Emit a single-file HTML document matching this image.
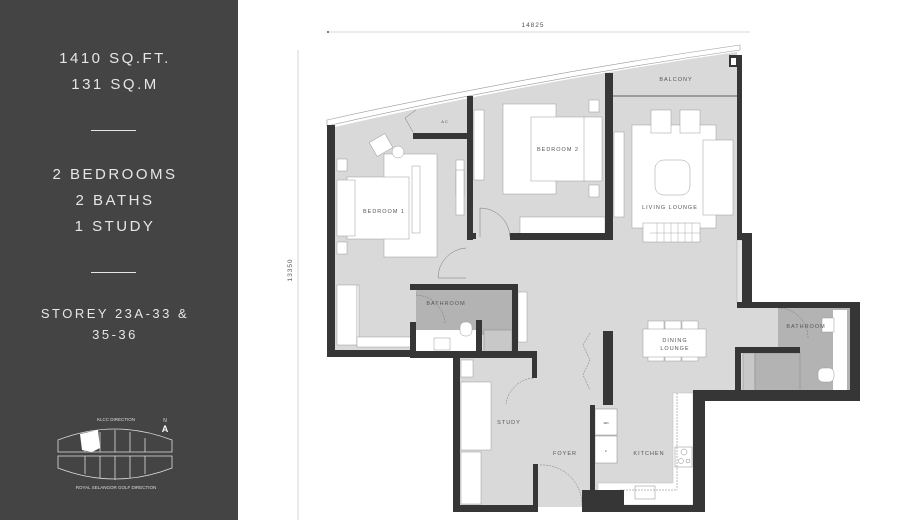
<!DOCTYPE html>
<html><head><meta charset="utf-8"><style>
html,body{margin:0;padding:0;background:#fff;}
body{width:897px;height:520px;position:relative;overflow:hidden;font-family:"Liberation Sans",sans-serif;}
#panel{position:absolute;left:0;top:0;width:238px;height:520px;background:#444;color:#e6e6e6;text-align:center;}
.t{position:absolute;left:0;width:230px;text-align:center;font-size:15px;letter-spacing:2.5px;}
.hr{position:absolute;left:91px;width:45px;height:1px;background:#e6e6e6;}
</style></head><body>
<div id="panel">
<div class="t" style="top:50px">1410 SQ.FT.</div>
<div class="t" style="top:76px">131 SQ.M</div>
<div class="hr" style="top:130px"></div>
<div class="t" style="top:166px">2 BEDROOMS</div>
<div class="t" style="top:192px">2 BATHS</div>
<div class="t" style="top:218px">1 STUDY</div>
<div class="hr" style="top:272px"></div>
<div class="t" style="top:306px;font-size:13px">STOREY 23A-33 &amp;</div>
<div class="t" style="top:327px;font-size:13px">35-36</div>
<svg style="position:absolute;left:0;top:0" width="238" height="520">
<g fill="none" stroke="#ddd" stroke-width="0.8">
<path d="M58,440 Q115,418 172,440 L172,452 L58,452 Z"/>
<path d="M58,456 L172,456 L172,468 Q115,490 58,468 Z"/>
<path d="M115,430 V452 M130,432 V452 M100,432 V452 M145,438 V452 M85,438 V452 M115,456 V480 M100,456 V478 M130,456 V478 M85,456 V474 M145,456 V474"/>
</g>
<path d="M80,434 L98,430 L100,448 L92,452 L82,450 Z" fill="#fff"/>
<text x="116" y="421" font-size="4.5" fill="#ddd" text-anchor="middle">KLCC DIRECTION</text>
<text x="116" y="489" font-size="4.5" fill="#ddd" text-anchor="middle">ROYAL SELANGOR GOLF DIRECTION</text>
<text x="165" y="422" font-size="5" fill="#ddd" text-anchor="middle">N</text>
<text x="165" y="432" font-size="9" fill="#fff" text-anchor="middle" font-weight="bold">A</text>
</svg>
</div>
<svg style="position:absolute;left:0;top:0" width="897" height="520" font-family="Liberation Sans, sans-serif">
<!-- dimensions -->
<line x1="327" y1="32" x2="750" y2="32" stroke="#ccc" stroke-width="0.8"/>
<circle cx="328" cy="32" r="1" fill="#555"/>
<text x="533" y="27" font-size="6.5" fill="#555" text-anchor="middle" letter-spacing="1">14825</text>
<line x1="298" y1="50" x2="298" y2="520" stroke="#ccc" stroke-width="0.8"/>
<text transform="translate(292,270) rotate(-90)" font-size="6.5" fill="#555" text-anchor="middle" letter-spacing="1">13350</text>
<!-- glass -->
<path d="M327,120 Q530,75 740,45 L740,50 Q530,80 327,126 Z" fill="#fff" stroke="#999" stroke-width="0.6"/>
<!-- floor -->
<path d="M335,127 Q530,82 737,52 L737,305 L852,305 L852,393 L697,393 L697,507 L460,507 L460,355 L335,355 Z" fill="#d9d9d9"/>
<!-- darker bathrooms -->
<rect x="416" y="290" width="96" height="45" fill="#b3b3b3"/>
<rect x="416" y="330" width="60" height="22" fill="#fff"/>
<rect x="484" y="330" width="28" height="22" fill="#c8c8c8" stroke="#888" stroke-width="0.5"/>
<rect x="778" y="308" width="72" height="82" fill="#b3b3b3"/>
<rect x="833" y="310" width="14" height="80" fill="#fff"/>
<rect x="743" y="353" width="12" height="38" fill="#c8c8c8" stroke="#888" stroke-width="0.5"/>
<rect x="755" y="353" width="45" height="38" fill="#b3b3b3" stroke="#888" stroke-width="0.5"/>
<rect x="737" y="240" width="8" height="63" fill="#e6e6e6" stroke="#aaa" stroke-width="0.5"/>
<!-- kitchen counter -->
<path d="M673,393 L693,393 L693,505 L598,505 L598,483 L673,483 Z" fill="#fff" stroke="#bbb" stroke-width="0.5"/>
<rect x="595" y="409" width="22" height="26" fill="#fff" stroke="#888" stroke-width="0.5"/>
<rect x="595" y="436" width="22" height="27" fill="#fff" stroke="#888" stroke-width="0.5"/>
<text x="606" y="424" font-size="3" fill="#333" text-anchor="middle">WD</text>
<text x="606" y="452" font-size="3" fill="#333" text-anchor="middle">F</text>
<rect x="675" y="447" width="17" height="20" fill="#fff" stroke="#888" stroke-width="0.5"/>
<circle cx="684" cy="452" r="3" fill="none" stroke="#888" stroke-width="0.5"/>
<circle cx="681" cy="461" r="2.5" fill="none" stroke="#888" stroke-width="0.5"/>
<circle cx="688" cy="461" r="2" fill="none" stroke="#888" stroke-width="0.5"/>
<rect x="635" y="486" width="20" height="13" fill="#fff" stroke="#888" stroke-width="0.5"/>
<!-- furniture -->
<g fill="#fff" stroke="#999" stroke-width="0.5">
<rect x="384" y="154" width="53" height="103"/>
<rect x="347" y="177" width="62" height="62"/>
<rect x="337" y="180" width="18" height="56"/>
<rect x="337" y="159" width="10" height="12"/><rect x="337" y="242" width="10" height="12"/>
<rect x="456" y="160" width="8" height="35"/><rect x="456" y="170" width="8" height="45"/>
<rect x="474" y="110" width="10" height="70"/>
<rect x="412" y="166" width="8" height="67"/>
<rect x="503" y="104" width="53" height="90"/>
<rect x="531" y="117" width="54" height="64"/>
<rect x="584" y="117" width="18" height="64"/>
<rect x="589" y="100" width="10" height="12"/><rect x="589" y="185" width="10" height="12"/>
<rect x="614" y="132" width="10" height="85"/>
<rect x="520" y="217" width="85" height="17"/>
<rect x="632" y="125" width="84" height="103"/>
<rect x="651" y="110" width="20" height="23"/><rect x="680" y="110" width="20" height="23"/>
<rect x="703" y="140" width="30" height="75"/>
<rect x="643" y="223" width="57" height="19"/>
<rect x="655" y="160" width="35" height="35" rx="9"/>
<rect x="337" y="285" width="20" height="60"/>
<rect x="357" y="285" width="2" height="60"/>
<rect x="357" y="337" width="55" height="10"/>
<rect x="648" y="321" width="16" height="40"/><rect x="665" y="321" width="16" height="40"/><rect x="682" y="321" width="16" height="40"/>
<rect x="643" y="329" width="63" height="28"/>
<rect x="461" y="382" width="30" height="68"/>
<rect x="461" y="452" width="20" height="52"/>
<rect x="461" y="360" width="12" height="17"/>
<rect x="518" y="292" width="9" height="50"/>
<rect x="434" y="338" width="16" height="12"/>
<rect x="822" y="318" width="12" height="14"/>
<rect x="818" y="368" width="16" height="14" rx="5"/>
<rect x="460" y="322" width="12" height="14" rx="5"/>
<circle cx="398" cy="152" r="6"/>
<rect x="372" y="137" width="18" height="16" transform="rotate(-30 381 145)"/>
</g>
<path d="M650,233 H700 M657,223 V242 M664,223 V242 M671,223 V242 M678,223 V242 M685,223 V242 M692,223 V242" stroke="#999" stroke-width="0.4"/>
<line x1="613" y1="96" x2="737" y2="96" stroke="#888" stroke-width="1.5"/>
<!-- doors -->
<g fill="none" stroke="#777" stroke-width="0.5">
<path d="M480,208 A30,30 0 0 1 510,237"/><line x1="480" y1="208" x2="480" y2="237"/>
<path d="M466,248 A30,30 0 0 0 438,278"/><line x1="438" y1="278" x2="466" y2="278"/>
<path d="M416,295 A30,30 0 0 1 445,324" stroke-dasharray="2,1"/>
<path d="M533,378 A30,30 0 0 0 506,404" stroke-dasharray="2,1"/>
<path d="M540,465 A40,40 0 0 1 582,505" stroke-dasharray="2,1"/>
<path d="M778,308 A30,30 0 0 1 808,338" stroke-dasharray="2,1"/>
<path d="M590,333 L583,345 L590,360 L583,375 L590,390" stroke-dasharray="2,1"/>
<path d="M413,132 L405,118 L416,110"/>
<line x1="677" y1="393" x2="677" y2="490" stroke-dasharray="2,1"/>
<line x1="620" y1="490" x2="677" y2="490" stroke-dasharray="2,1"/>
</g>
<!-- walls -->
<g fill="#363636">
<rect x="327" y="125" width="8" height="232"/>
<rect x="327" y="350" width="86" height="7"/>
<rect x="410" y="284" width="108" height="6"/>
<rect x="410" y="322" width="6" height="35"/>
<rect x="476" y="320" width="6" height="32"/>
<rect x="512" y="284" width="6" height="73"/>
<rect x="410" y="351" width="127" height="7"/>
<rect x="453" y="352" width="7" height="160"/>
<rect x="532" y="352" width="5" height="26"/>
<rect x="533" y="464" width="5" height="48"/>
<rect x="453" y="505" width="85" height="7"/>
<rect x="467" y="96" width="6" height="144"/>
<rect x="413" y="133" width="56" height="6"/>
<rect x="467" y="233" width="9" height="6"/>
<rect x="510" y="233" width="103" height="7"/>
<rect x="605" y="73" width="8" height="167"/>
<rect x="603" y="331" width="10" height="74"/>
<rect x="590" y="405" width="5" height="107"/>
<rect x="582" y="490" width="42" height="22"/>
<rect x="582" y="505" width="123" height="7"/>
<rect x="693" y="392" width="12" height="120"/>
<rect x="693" y="390" width="167" height="11"/>
<rect x="850" y="302" width="10" height="99"/>
<rect x="737" y="302" width="123" height="6"/>
<rect x="735" y="347" width="65" height="6"/>
<rect x="735" y="347" width="6" height="50"/>
<rect x="737" y="55" width="5" height="185"/>
<rect x="742" y="233" width="10" height="75"/>
<rect x="729" y="55" width="10" height="12"/>
</g>
<rect x="731" y="58" width="5" height="7" fill="#fff"/>
<!-- labels -->
<g font-size="5.5" fill="#555" text-anchor="middle" letter-spacing="1">
<text x="384" y="213">BEDROOM 1</text>
<text x="558" y="151">BEDROOM 2</text>
<text x="676" y="81">BALCONY</text>
<text x="670" y="209">LIVING LOUNGE</text>
<text x="446" y="305">BATHROOM</text>
<text x="806" y="328">BATHROOM</text>
<text x="675" y="342">DINING</text>
<text x="675" y="350">LOUNGE</text>
<text x="509" y="424">STUDY</text>
<text x="565" y="455">FOYER</text>
<text x="649" y="455">KITCHEN</text>
<text x="445" y="123" font-size="4">AC</text>
</g>
</svg>
</body></html>
